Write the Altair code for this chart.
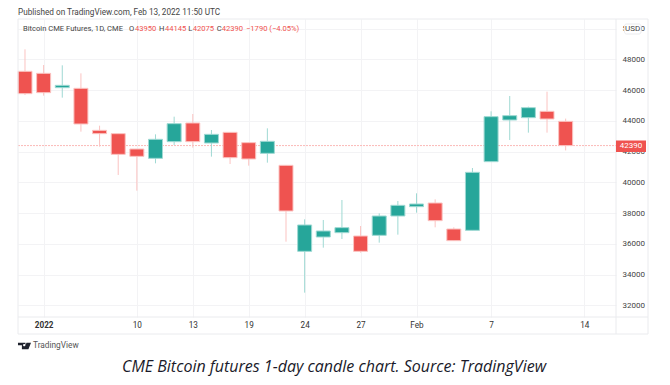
import altair as alt
import pandas as pd

index = list(range(30))
opens = [47220, 47089, 46157, 46114, 43382, 43165, 42168, 41561, 42645, 43859, 42558, 43252, 42580, 41886, 41106,
         35512, 36444, 36726, 36509, 36553, 37810, 38417, 38656, 36965, 36878, 41344, 44054, 44206, 44618, 43967]
closes = [45767, 45832, 46309, 43794, 43165, 41821, 41691, 42797, 43816, 42645, 43122, 41604, 41518, 42667, 38136,
          37225, 36835, 37052, 35512, 37810, 38504, 38591, 37507, 36206, 40650, 44271, 44336, 44856, 44119, 42390]
highs = [48650, 47631, 47610, 47089, 43686, 43165, 42168, 43122, 44271, 44444, 43404, 43252, 42580, 43512, 41127,
         37594, 37550, 38851, 37160, 37984, 38786, 39285, 38894, 37073, 40932, 44618, 45615, 44921, 45897, 44145]
lows = [45680, 45637, 45507, 43295, 42320, 40477, 39458, 41236, 42428, 42255, 41670, 41192, 41084, 41279, 36141,
        32824, 35751, 36315, 35426, 36076, 36596, 38027, 37073, 36206, 36878, 41344, 42754, 43230, 43230, 42075]

x_tick_pos = [1, 6, 9, 12, 15, 18, 21, 25, 30]
x_tick_text = ["2022", "10", "13", "19", "24", "27", "Feb", "7", "14"]
y_ticks = [32000, 34000, 36000, 38000, 40000, 42000, 44000, 46000, 48000, 50000]
last_price = 42390

RED, GREEN = "#ef5350", "#26a69a"
RED_PALE, GREEN_PALE = "#fbc3c1", "#9fd9d3"
GRID, FRAME = "#f3f3f5", "#eaebee"
FONT = "Roboto"
L, T, W, H = 18, 19, 598, 298

df = pd.DataFrame({"i": index, "open": opens, "close": closes, "high": highs, "low": lows})
df["dir"] = ["up" if c >= o else "down" for o, c in zip(opens, closes)]

xs = alt.Scale(domain=[-0.375, 31.7], nice=False, zero=False, padding=0)
ys = alt.Scale(domain=[31241, 50623], nice=False, zero=False)

expr = "{" + ",".join(f"'{p}':'{t}'" for p, t in zip(x_tick_pos, x_tick_text)) + "}[datum.value]"
x_axis = alt.Axis(values=x_tick_pos, labelExpr=expr, title=None, grid=True, gridColor=GRID, domain=False, ticks=False,
                  labelFont=FONT, labelFontSize=8.2, labelColor="#333333", labelPadding=4, labelAngle=0,
                  labelOverlap=False, labelFontWeight=alt.expr("datum.value == 1 ? 'bold' : 'normal'"))
y_axis = alt.Axis(values=y_ticks, orient="right", format="d", title=None, grid=True, gridColor=GRID, domain=False,
                  ticks=False, labelFont=FONT, labelFontSize=8, labelColor="#444444", labelPadding=6,
                  labelOverlap=False)

base = alt.Chart(df)
wick_color = alt.Color("dir:N", legend=None, scale=alt.Scale(domain=["up", "down"], range=[GREEN_PALE, RED_PALE]))
body_color = alt.Fill("dir:N", legend=None, scale=alt.Scale(domain=["up", "down"], range=[GREEN, RED]))
stroke_color = alt.Stroke("dir:N", legend=None, scale=alt.Scale(domain=["up", "down"], range=[GREEN_PALE, RED_PALE]))

wicks = base.mark_rule(strokeWidth=1).encode(
    x=alt.X("i:Q", scale=xs, axis=x_axis),
    y=alt.Y("low:Q", scale=ys, axis=y_axis),
    y2="high:Q",
    color=wick_color,
)
bodies = base.mark_bar(size=14, orient="vertical", strokeWidth=1).encode(
    x=alt.X("i:Q", scale=xs, axis=x_axis),
    y=alt.Y("open:Q", scale=ys, axis=y_axis),
    y2="close:Q",
    fill=body_color,
    stroke=stroke_color,
)


def hrule(x1, x2, y, color=FRAME):
    return alt.Chart(alt.Data(values=[{}])).mark_rule(strokeWidth=1).encode(
        x=alt.value(x1 - L), x2=alt.value(x2 - L), y=alt.value(y - T), color=alt.value(color))


def vrule(x, y1, y2, color=FRAME):
    return alt.Chart(alt.Data(values=[{}])).mark_rule(strokeWidth=1).encode(
        x=alt.value(x - L), y=alt.value(y1 - T), y2=alt.value(y2 - T), color=alt.value(color))


def label(s, x, y, size=7.6, color="#333333", font=FONT, align="left", **kw):
    return alt.Chart(alt.Data(values=[{}])).mark_text(
        text=s, x=x - L, y=y - T, fontSize=size, color=color, font=font, align=align, baseline="middle", **kw)


def box(x1, x2, y1, y2, **kw):
    return alt.Chart(alt.Data(values=[{}])).mark_rect(**kw).encode(
        x=alt.value(x1 - L), x2=alt.value(x2 - L), y=alt.value(y1 - T), y2=alt.value(y2 - T))


price_line = alt.Chart(pd.DataFrame({"p": [last_price]})).mark_rule(strokeWidth=1, strokeDash=[2, 1]).encode(
    y=alt.Y("p:Q", scale=ys, axis=y_axis), x=alt.value(0), x2=alt.value(W), color=alt.value("#fbb9b7"))

frame = [hrule(18, 648, 19), hrule(18, 648, 317), hrule(18, 648, 334),
         vrule(18, 19, 334), vrule(616, 19, 334), vrule(648, 19, 334)]

logo_t = alt.Chart(alt.Data(values=[{}])).mark_point(
    shape="M-1 -.5H.15V.5H-.4V-.1H-1Z M.3 -.5H1L.6 .5H-.05Z M-.05 -.3a.17 .17 0 1 0 .01 0Z",
    size=170, filled=True, fill="#1e222d", opacity=1).encode(
    x=alt.value(24.5 - L), y=alt.value(346 - T))

texts = [
    label("Published on TradingView.com, Feb 13, 2022 11:50 UTC", 18, 12.8, size=8.2, color="#444444"),
    label("Bitcoin CME Futures, 1D, CME", 23, 28.7, color="#444444"),
    label("O", 129, 28.7, color="#444444"),
    label("43950", 135, 28.7, color=RED),
    label("H", 159, 28.7, color="#444444"),
    label("44145", 165, 28.7, color=RED),
    label("L", 188.3, 28.7, color="#444444"),
    label("42075", 192.7, 28.7, color=RED),
    label("C", 216.7, 28.7, color="#444444"),
    label("42390", 221.7, 28.7, color=RED),
    label("−1790 (−4.05%)", 246, 28.7, color=RED),
    box(624.5, 641, 24, 34, fill="white", stroke=FRAME, cornerRadius=2),
    label("USD", 632.7, 29, size=8, color="#444444", align="center"),
    box(616, 646, 140.5, 152, fill=RED),
    label("42390", 631, 146.3, size=8, color="white", align="center"),
    logo_t,
    label("TradingView", 33, 346, size=8.3, color="#555555"),
    label("CME Bitcoin futures 1-day candle chart. Source: TradingView", 122, 367, size=16,
          color="#1a1a2a", font="Open Sans", fontStyle="italic"),
]

chart = alt.layer(price_line, wicks, bodies, *frame, *texts).resolve_scale(
    color="independent", fill="independent", stroke="independent"
).properties(
    width=W, height=H,
    autosize=alt.AutoSizeParams(type="none"),
    padding={"left": L - 8, "top": T - 8, "right": 648 + 4 - (L + W), "bottom": 377 - (T + H)},
).configure_view(stroke=None)

chart.save("out.html", embed_options={"renderer": "svg", "actions": False})
